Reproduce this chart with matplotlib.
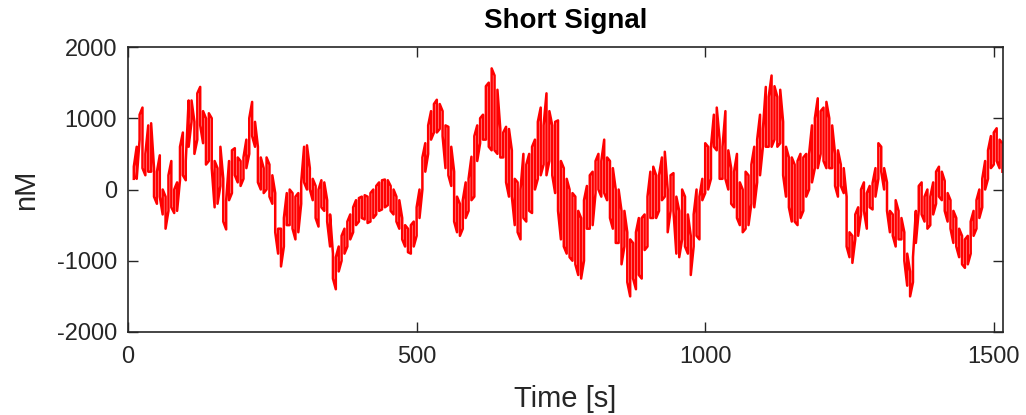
import numpy as np
import matplotlib.pyplot as plt

# sample times (s), every 5 s, and the upper / lower edge of the trace (nM)
t = np.arange(10, 1516, 5)

upper = [
    320, 600, 1050, 1150, 500, 900, 930, 300, 250, 480, 0, -100, 200, 400, 0, 100,
    600, 800, 400, 1250, 1250, 950, 1350, 1440, 1100, 1000,
    1070, 1000, 400, 300, 600, 150, -150, 400, 550, 580, 450, 400, 450, 700, 1000,
    1230, 950, 600, 450, 300, 450, 350, 200, -50, -550, -550, -400, -50,
    0, -50, -100, -50, 100, 600, 620, 300, 150, 50, 0, 130, 100, -150, -350, -900,
    -950, -800, -650, -550, -450, -350, -250, -150, -120, -100, -80,
    -100, -50, 0, 50, 100, 130, 140, 130, 50, 0, -100, -150, -400, -500, -550, -500,
    -450, -250, 0, 450, 650, 900, 1100, 1200, 1260, 1200, 1100, 900,
    880, 600, 250, -100, -200, -150, 100, 150, 460, 750, 900, 1000, 1050, 1450, 1500,
    1700, 1600, 1400, 850, 800, 880, 850, 550, 150, 100, 0, 500, 350,
    500, 600, 700, 950, 1150, 900, 1350, 1100, 900, 950, 970, 400, 300, 150, 0, -50,
    -100, -300, -400, -150, 50, 200, 250, 400, 500, 400, 700, 450,
    400, 300, 0, 0, -300, -300, -600, -700, -750, -600, -400, -400, -350, -100, 250,
    320, 200, 200, 450, 530, 0, 200, 230, -100, -300, 0, -100,
    -350, -650, -350, 0, -100, 150, 650, 600, 600, 1050, 1150, 700, 600, 1100, 550,
    300, 250, 500, 100, 0, 250, 200, 350, 600, 700, 1050, 850, 1440,
    1300, 1600, 1450, 1300, 1400, 950, 600, 450, 450, 350, 400, 500, 450, 500, 500,
    900, 1000, 1280, 1100, 1150, 1230, 1000, 900, 500, 550, 350, 300, -100,
    -600, -650, -350, -250, 0, 100, -50, 50, 90, 300, 650, 600, 300, 100, -300, -350,
    -150, -300, -400, -600, -900, -1150, -950, -300, 50, 100, -100, 0,
    -100, 100, 250, 320, 250, 120, -50, -150, -300, -400, -550, -650, -700, -650,
    -450, -300, -150, 0, 150, 400, 550, 750, 800, 860, 700, 650,
]

lower = [
    150, 150, 700, 300, 200, 250, 250, -100, -200, -100, -350, -550, -300, -250, -330,
    -300, 130, 200, 130, 600, 950, 500, 700, 900, 650, 350,
    400, 300, -250, -200, 50, -450, -560, -150, -50, 200, 100, 50, 150, 300, 500,
    750, 600, 100, 0, -50, 0, -100, -200, -600, -900, -1080, -800, -500,
    -500, -550, -700, -600, -200, 100, 0, 0, -150, -400, -520, -250, -300, -450, -800,
    -1250, -1400, -1150, -1000, -900, -800, -700, -600, -500, -450, -400, -420,
    -470, -450, -400, -350, -300, -280, -250, -220, -300, -350, -450, -550, -700, -800,
    -880, -900, -800, -650, -400, 0, 250, 500, 700, 800, 800, 850, 750, 300,
    200, 50, -450, -600, -650, -550, -400, -300, -150, -100, 400, 650, 700, 700, 600,
    550, 550, 500, 450, 450, 100, -100, -100, -500, -600, -700, -400, -450,
    -300, -330, 0, 150, 200, 350, 200, 400, 200, -50, -300, -700, -800, -900, -950,
    -1000, -1050, -1200, -1250, -1000, -550, -550, -500, -50, 0, -100, -50, -150,
    -400, -550, -750, -750, -1050, -800, -1300, -1500, -1250, -1400, -1200, -1250,
    -850, -800, -400, -400, -400, -300, -150, -100, -600, -300, -300, -900, -950,
    -700, -800,
    -900, -1200, -800, -650, -700, -150, -50, 0, 150, 600, 550, 150, 150, 150, 0,
    -200, -250, -400, -500, -600, -550, -500, -200, -250, 100, 200, 600, 600,
    600, 600, 700, 600, 650, 200, -100, -250, -450, -450, -500, -400, -300, -100, 0,
    100, 300, 300, 500, 400, 300, 300, 300, 50, -100, 50, -50, -800,
    -950, -1030, -700, -650, -350, -300, -550, -250, -280, -100, 150, 250, 0, -300,
    -600, -650, -800, -700, -700, -1000, -1350, -1500, -1300, -750, -300, -350, -450,
    -550,
    -500, -350, -200, -100, -150, -300, -450, -550, -750, -800, -950, -1050, -1100,
    -1050, -900, -650, -550, -400, -250, 0, 150, 300, 350, 400, 300, 250,
]

n = min(len(t), len(upper), len(lower))

# vertical strokes: each sample drawn from one edge to the other, alternating direction
xs = np.repeat(t[:n], 2)
ys = []
for i in range(n):
    if i % 2 == 0:
        ys += [lower[i], upper[i]]
    else:
        ys += [upper[i], lower[i]]

plt.rcParams['font.family'] = ['Liberation Sans', 'DejaVu Sans']
plt.rcParams['axes.unicode_minus'] = False
fig = plt.figure(figsize=(10.26, 4.15), dpi=100)
ax = fig.add_axes([0.1248, 0.2, 0.8528, 0.6867])
ax.plot(xs, ys, color='red', lw=1.8)

ax.set_xlim(0, 1516)
ax.set_ylim(-2000, 2000)
ax.set_xticks([0, 500, 1000, 1500])
ax.set_yticks([-2000, -1000, 0, 1000, 2000])
dark = '#262626'
ax.tick_params(direction='in', length=7, width=1, top=True, right=True,
               labelsize=17, colors=dark)
ax.tick_params(axis='x', pad=10)
ax.tick_params(axis='y', pad=8)
for s in ax.spines.values():
    s.set_color(dark)
    s.set_linewidth(1.2)
ax.set_title('Short Signal', fontsize=20, fontweight='bold', pad=14)
ax.set_xlabel('Time [s]', fontsize=21, color=dark, labelpad=12)
ax.set_ylabel('nM', fontsize=21, color=dark, labelpad=12)

fig.savefig('out.png', dpi=100)
